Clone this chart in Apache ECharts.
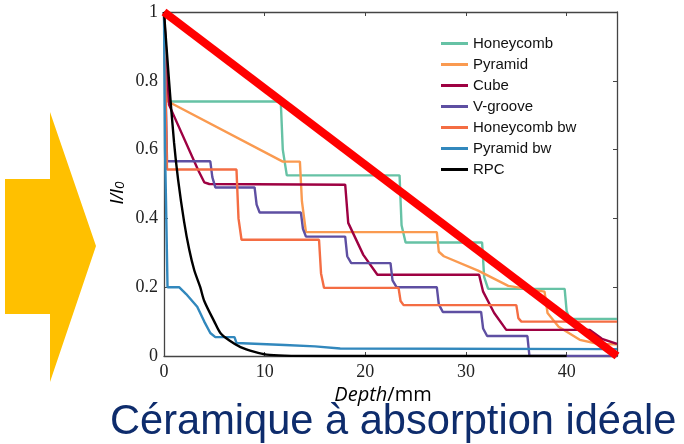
<!DOCTYPE html>
<html><head><meta charset="utf-8">
<script src="https://cdn.jsdelivr.net/npm/echarts@6/dist/echarts.min.js"></script>
<style>html,body{margin:0;padding:0;background:#fff}#c{width:684px;height:444px}</style>
</head><body><div id="c"></div>
<script>
const seriesNames = ['Honeycomb','Pyramid','Cube','V-groove','Honeycomb bw','Pyramid bw','RPC'];
const seriesColors = ['#66C2A5','#FA9A50','#9E0142','#5E4FA2','#F46D43','#3288BD','#000000'];
const xTicks = [0,10,20,30,40];
const yTicks = [0,0.2,0.4,0.6,0.8,1];

const honeycomb = [[0,1],[0.4,0.74],[11.6,0.74],[11.8,0.6],[12.2,0.525],[23.4,0.525],[23.6,0.38],[24,0.33],[31.6,0.33],[31.8,0.23],[32.2,0.195],[39.8,0.195],[40,0.13],[40.3,0.108],[45,0.108]];
const pyramid = [[0,1],[0.4,0.74],[11.8,0.565],[13.5,0.565],[13.7,0.45],[14.1,0.36],[27.1,0.36],[27.3,0.303],[27.8,0.29],[31.2,0.248],[34.2,0.204],[37.8,0.187],[38.1,0.125],[39.2,0.085],[41.3,0.047],[43.2,0.035],[45,0.034]];
const cube = [[0,1],[0.5,0.73],[3.4,0.54],[4.0,0.505],[4.5,0.5],[18.0,0.498],[18.3,0.387],[19.8,0.294],[21.2,0.236],[31.3,0.236],[31.7,0.187],[32.8,0.125],[34.0,0.076],[42.3,0.076],[43.5,0.05],[45,0.035]];
const vgroove = [[0,1],[0.3,0.566],[4.6,0.566],[4.8,0.52],[5.1,0.49],[9.0,0.49],[9.2,0.44],[9.5,0.417],[13.6,0.417],[13.8,0.37],[14.1,0.347],[18.0,0.347],[18.2,0.29],[18.6,0.27],[22.5,0.27],[22.7,0.22],[23.1,0.2],[27.1,0.2],[27.3,0.15],[27.7,0.128],[31.5,0.128],[31.7,0.08],[32.1,0.058],[36.1,0.058],[36.3,0],[45,0]];
const honeycombBw = [[0,1],[0.3,0.542],[7.2,0.542],[7.4,0.4],[7.7,0.338],[15.4,0.338],[15.6,0.24],[15.9,0.198],[23.3,0.198],[23.5,0.16],[23.8,0.148],[35.0,0.148],[35.2,0.11],[35.5,0.1],[45,0.1]];
const pyramidBw = [[0,1],[0.1,0.6],[0.2,0.45],[0.35,0.2],[1.5,0.2],[2.2,0.18],[3.3,0.143],[4.0,0.1],[4.6,0.067],[5.1,0.055],[7.0,0.055],[7.2,0.038],[12,0.032],[15,0.028],[17.5,0.022],[45,0.02]];
const rpc = [[0,1],[0.5,0.8],[1,0.62],[1.4,0.513],[2,0.39],[2.5,0.31],[3,0.25],[3.6,0.2],[4,0.16],[5,0.1],[5.6,0.067],[6.5,0.045],[7.6,0.026],[9,0.012],[10.2,0.004],[12,0.001],[15,0],[40,0]];
const idealLine = [[0,1],[45,0]];

const allData = [honeycomb, pyramid, cube, vgroove, honeycombBw, pyramidBw, rpc];

const chart = echarts.init(document.getElementById('c'), null, {renderer:'canvas'});
const axisCol = '#444';
const tickFont = {fontFamily:'Liberation Serif', fontSize:18, color:'#222'};

const series = allData.map((d,i)=>({
  type:'line', name:seriesNames[i], data:d, showSymbol:false, symbol:'none',
  smooth: seriesNames[i]==='RPC' ? 0.3 : false,
  lineStyle:{color:seriesColors[i], width:2.4}, itemStyle:{color:seriesColors[i]}, z:2+i
}));
series.push({type:'line', name:'ideal', data:idealLine, showSymbol:false, symbol:'none',
  lineStyle:{color:'#FF0000', width:8}, z:20});

const frameAxis = {axisLine:{show:true, onZero:false, lineStyle:{color:axisCol, width:1.3}},
  axisTick:{show:true, inside:true, length:4, lineStyle:{color:axisCol}}, splitLine:{show:false}};

chart.setOption({
  animation:false,
  grid:{left:164, top:12, right:67, bottom:88},
  xAxis:[{type:'value', min:0, max:45, interval:10, position:'bottom', ...frameAxis,
    axisLabel:{...tickFont, margin:7, formatter:v=> xTicks.includes(v)? String(v): ''}},
   {type:'value', min:0, max:45, interval:10, position:'top', ...frameAxis, axisLabel:{show:false}}],
  yAxis:[{type:'value', min:0, max:1, interval:0.2, position:'left', ...frameAxis,
    axisLabel:{...tickFont, margin:6, formatter:v=> { const t=yTicks.find(y=>Math.abs(y-v)<1e-9); return t===undefined?'':String(t);} }},
   {type:'value', min:0, max:1, interval:0.2, position:'right', ...frameAxis, axisLabel:{show:false}}],
  legend:{orient:'vertical', left:436, top:31, itemWidth:27, itemHeight:3, icon:'rect', itemGap:6,
    data:seriesNames, textStyle:{fontFamily:'Liberation Sans', fontSize:15, color:'#111', lineHeight:15}},
  series:series,
  graphic:[
    {type:'polygon', shape:{points:[[5,179],[50,179],[50,112],[96,246],[50,382],[50,314],[5,314]]}, style:{fill:'#FFC000'}},
    {type:'text', x:116, y:193, rotation:Math.PI/2, style:{
      text:'{a|I/I}{b|0}', align:'center', verticalAlign:'middle',
      rich:{a:{fontFamily:'Liberation Sans', fontStyle:'italic', fontSize:19, color:'#111', lineHeight:22, verticalAlign:'bottom'},
            b:{fontFamily:'Liberation Sans', fontStyle:'italic', fontSize:13, color:'#111', lineHeight:16, verticalAlign:'bottom', padding:[6,0,0,0]}}}},
    {type:'text', x:383, y:395, style:{
      text:'{i|Depth}{n|/mm}', align:'center', verticalAlign:'middle',
      rich:{i:{fontFamily:'Open Sans', fontStyle:'italic', fontSize:20, color:'#111'},
            n:{fontFamily:'Open Sans', fontSize:20, color:'#111'}}}},
    {type:'text', x:110, y:423, style:{text:'Céramique à absorption idéale', fontFamily:'Liberation Sans', fontSize:41.6, fill:'#0E2C6C', align:'left', verticalAlign:'middle'}}
  ]
});
</script></body></html>
